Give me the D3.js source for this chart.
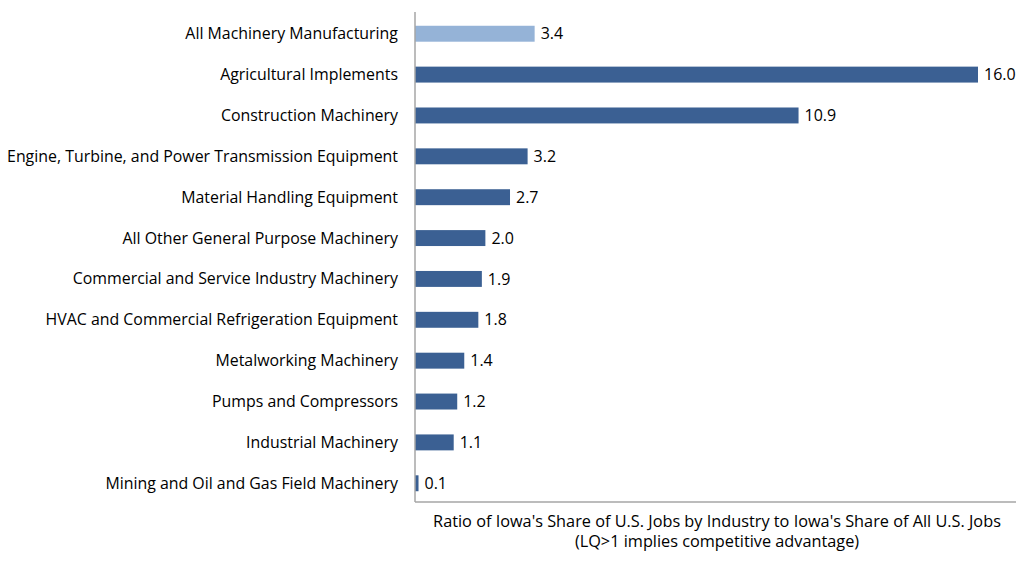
<!DOCTYPE html>
<html><head><meta charset="utf-8">
<script src="https://cdn.jsdelivr.net/npm/d3@7"></script>
<style>body{margin:0;background:#fff}svg{display:block}text{font-family:"Open Sans","Liberation Sans",sans-serif;fill:#000}</style>
</head><body><svg id="c" width="1024" height="564"></svg>
<script>
const categories = ["All Machinery Manufacturing","Agricultural Implements","Construction Machinery","Engine, Turbine, and Power Transmission Equipment","Material Handling Equipment","All Other General Purpose Machinery","Commercial and Service Industry Machinery","HVAC and Commercial Refrigeration Equipment","Metalworking Machinery","Pumps and Compressors","Industrial Machinery","Mining and Oil and Gas Field Machinery"];
const values = [3.4,16.0,10.9,3.2,2.7,2.0,1.9,1.8,1.4,1.2,1.1,0.1];
const highlight = ["All Machinery Manufacturing"];
const axisTitle = ["Ratio of Iowa's Share of U.S. Jobs by Industry to Iowa's Share of All U.S. Jobs","(LQ>1 implies competitive advantage)"];

const svg = d3.select("#c");
const mL = 415, mT = 12, mB = 502, mR = 1016;
const x = d3.scaleLinear().domain([0,16]).range([mL, mL+563]);
const y = d3.scaleBand().domain(categories).range([mT+1.5, mB+1.5]).paddingInner(0.61).paddingOuter(0.3);

svg.append("g").selectAll("rect").data(categories).join("rect")
  .attr("x", x(0)).attr("y", d=>y(d)).attr("height", y.bandwidth())
  .attr("width", (d,i)=>x(values[i])-x(0))
  .attr("fill", d=>highlight.includes(d)?"#95B3D7":"#3B6093");

svg.append("g").selectAll("text").data(categories).join("text")
  .attr("x", (d,i)=>x(values[i])+6).attr("y", d=>y(d)+y.bandwidth()/2)
  .attr("dy","0.35em").attr("font-size",16).text((d,i)=>values[i].toFixed(1));

svg.append("g").selectAll("text").data(categories).join("text")
  .attr("x", 398).attr("y", d=>y(d)+y.bandwidth()/2).attr("dy","0.35em")
  .attr("text-anchor","end").attr("font-size",15.9).text(d=>d);

svg.append("line").attr("x1",mL).attr("x2",mL).attr("y1",mT).attr("y2",mB).attr("stroke","#a6a6a6").attr("stroke-width",1.5);
svg.append("line").attr("x1",mL).attr("x2",mR).attr("y1",mB).attr("y2",mB).attr("stroke","#a6a6a6").attr("stroke-width",1.5);

svg.append("g").selectAll("text").data(axisTitle).join("text")
  .attr("x",717).attr("y",(d,i)=>521+i*20).attr("dy","0.35em").attr("text-anchor","middle")
  .attr("font-size",16.3).text(d=>d);
</script></body></html>
